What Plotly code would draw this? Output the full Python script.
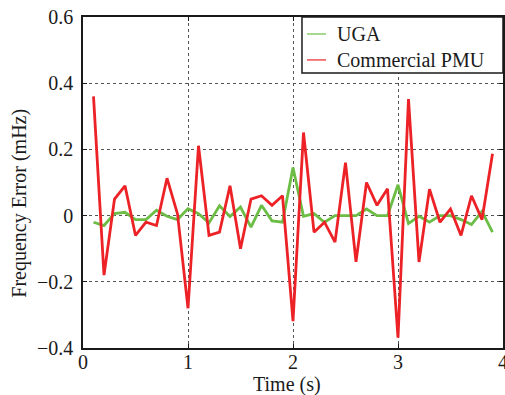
import plotly.graph_objects as go

time_s = [round(0.1 * i, 1) for i in range(1, 40)]

uga = [-0.02, -0.03, 0.006, 0.01, -0.012, -0.012, 0.016, -0.002, -0.012, 0.021,
       0.006, -0.022, 0.03, -0.003, 0.026, -0.035, 0.031, -0.016, -0.02, 0.145,
       -0.002, 0.006, -0.02, 0.0, 0.0, 0.0, 0.02, 0.0, 0.0, 0.093,
       -0.024, -0.002, -0.02, 0.0, 0.0, -0.012, -0.027, 0.013, -0.05]

pmu = [0.36, -0.18, 0.05, 0.09, -0.06, -0.02, -0.03, 0.113, 0.005, -0.28,
       0.211, -0.06, -0.05, 0.09, -0.10, 0.05, 0.06, 0.031, 0.06, -0.319,
       0.251, -0.05, -0.02, -0.08, 0.16, -0.14, 0.10, 0.031, 0.081, -0.369,
       0.352, -0.14, 0.08, -0.02, 0.02, -0.06, 0.06, -0.012, 0.187]

series_names = ["UGA", "Commercial PMU"]
series_colors = ["#6cbd45", "#ec2227"]

x_ticks = [0, 1, 2, 3, 4]
y_ticks = [-0.4, -0.2, 0, 0.2, 0.4, 0.6]
y_tick_text = ["\u22120.4", "\u22120.2", "0", "0.2", "0.4", "0.6"]

font = "Liberation Serif, Times New Roman, serif"
ink = "#1a1a1a"

fig = go.Figure()
for name, vals, col in zip(series_names, [uga, pmu], series_colors):
    fig.add_trace(go.Scatter(x=time_s, y=vals, mode="lines", name=name,
                             showlegend=False, line=dict(color=col, width=2.8)))

axis_common = dict(showline=True, linecolor=ink, linewidth=1.5, mirror="ticks",
                   showgrid=True, gridcolor="#555", gridwidth=1, griddash="3px,3px",
                   zeroline=False, ticks="inside", ticklen=4, tickwidth=1, tickcolor=ink,
                   ticklabeloverflow="allow", automargin=False,
                   tickfont=dict(size=20, family=font, color=ink))

fig.update_xaxes(range=[0, 4], tickvals=x_ticks, ticktext=[str(v) for v in x_ticks],
                 ticklabelstandoff=-5, **axis_common)
fig.update_yaxes(range=[-0.4, 0.6], tickvals=y_ticks, ticktext=y_tick_text,
                 ticklabelstandoff=4, **axis_common)

# legend box (top-right, flush with the frame)
shapes = [dict(type="rect", xref="paper", yref="paper", x0=0.5214, x1=1, y0=0.831, y1=1,
               fillcolor="white", line=dict(color=ink, width=1.5), layer="above")]
annotations = []
legend_rows_y = [0.9487, 0.8703]
for name, col, ly in zip(series_names, series_colors, legend_rows_y):
    shapes.append(dict(type="line", xref="paper", yref="paper", x0=0.5333, x1=0.5786,
                       y0=ly, y1=ly, line=dict(color=col, width=1.2), layer="above"))
    annotations.append(dict(text=name, xref="paper", yref="paper", x=0.6, y=ly,
                            xanchor="left", yanchor="middle", showarrow=False,
                            font=dict(size=20, family=font, color=ink)))

annotations += [
    dict(text="Time (s)", xref="paper", yref="paper", x=0.486, y=-0.11,
         xanchor="center", yanchor="middle", showarrow=False,
         font=dict(size=20, family=font, color=ink)),
    dict(text="Frequency Error (mHz)", xref="paper", yref="paper", x=-0.15, y=0.436,
         xanchor="center", yanchor="middle", textangle=-90, showarrow=False,
         font=dict(size=20, family=font, color=ink)),
]

fig.update_layout(
    width=505, height=395,
    margin=dict(l=83, r=2, t=17, b=47, autoexpand=False),
    plot_bgcolor="white", paper_bgcolor="white",
    font=dict(family=font, size=20, color=ink),
    showlegend=False,
    shapes=shapes,
    annotations=annotations,
)

fig.write_html("out.html")
